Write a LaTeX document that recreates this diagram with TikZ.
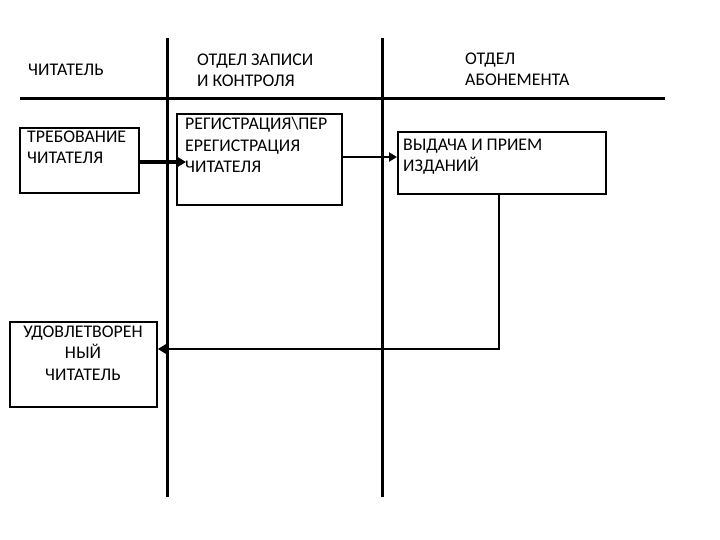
\documentclass[tikz,border=0pt]{standalone}
\usepackage{fontspec}
\setmainfont{Carlito}
\usetikzlibrary{arrows.meta}
\begin{document}
\begin{tikzpicture}[x=1pt,y=-1pt,
  lane/.style={line width=3pt},
  box/.style={draw,line width=1.8pt,rectangle,inner sep=0pt,anchor=north west},
  txt/.style={font=\fontsize{17.8}{21.5}\selectfont,inner sep=0pt,align=left,anchor=base west},
  flow/.style={line width=2.6pt,-{Triangle[length=8pt,width=9pt]}}]
\useasboundingbox (0,0) rectangle (720,540);
% lanes
\coordinate (h1) at (20,99);
\coordinate (h2) at (665,99);
\coordinate (v1t) at (167,38);
\coordinate (v1b) at (167,497);
\coordinate (v2t) at (382,38);
\coordinate (v2b) at (382,497);
\draw[lane] (h1) -- (h2);
\draw[lane] (v1t) -- (v1b);
\draw[lane] (v2t) -- (v2b);
% headers (anchor = baseline of last line)
\node[txt] (hd1) at (28,76) {ЧИТАТЕЛЬ};
\node[txt] (hd2) at (197,87) {ОТДЕЛ ЗАПИСИ\\И КОНТРОЛЯ};
\node[txt] (hd3) at (465,86) {ОТДЕЛ\\АБОНЕМЕНТА};
% boxes
\node[box,minimum width=119pt,minimum height=65pt] (req) at (19,127) {};
\node[txt] (reqt) at (27,164) {ТРЕБОВАНИЕ\\ЧИТАТЕЛЯ};
\node[box,minimum width=165pt,minimum height=91pt] (reg) at (176,113) {};
\node[txt] (regt) at (185,173) {РЕГИСТРАЦИЯ\textbackslash ПЕР\\ЕРЕГИСТРАЦИЯ\\ЧИТАТЕЛЯ};
\node[box,minimum width=208pt,minimum height=62pt] (iss) at (397,131) {};
\node[txt] (isst) at (403,172) {ВЫДАЧА И ПРИЕМ\\ИЗДАНИЙ};
\node[box,minimum width=147pt,minimum height=85pt] (sat) at (9,321) {};
\node[txt,align=center,anchor=base] (satt) at (83,380) {УДОВЛЕТВОРЕН\\НЫЙ\\ЧИТАТЕЛЬ};
% connectors
\coordinate (a1) at (req.east |- 0,162);
\coordinate (a1e) at (186,162);
\draw[flow,line width=3.6pt] (a1) -- (a1e);
\coordinate (a2) at (reg.east |- 0,157);
\coordinate (a2e) at (iss.west |- 0,157);
\draw[flow] (a2) -- (a2e);
\coordinate (a3) at (499,193);
\coordinate (a3c) at (499,349);
\coordinate (a3e) at (sat.east |- 0,349);
\draw[flow,line width=2.4pt] (a3) -- (a3c) -- (a3e);
\end{tikzpicture}
\end{document}
